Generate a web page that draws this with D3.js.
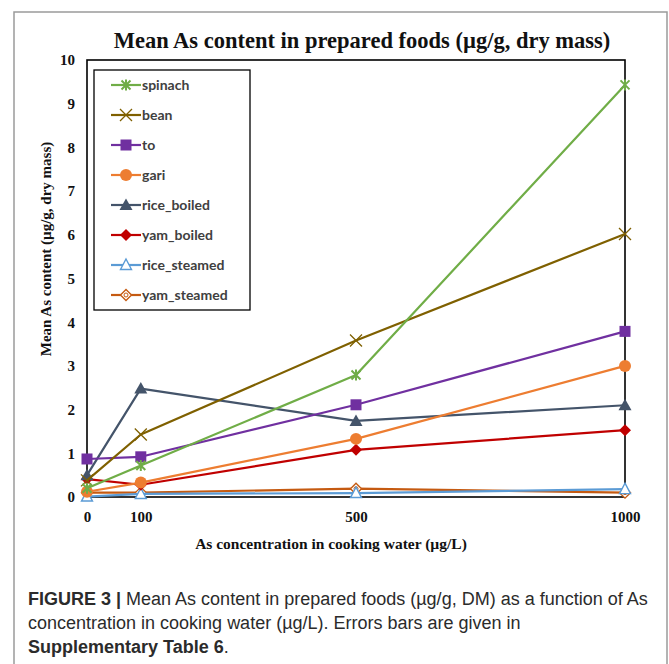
<!DOCTYPE html>
<html>
<head>
<meta charset="utf-8">
<script src="https://cdn.jsdelivr.net/npm/d3@7"></script>
<style>
  html, body { margin: 0; padding: 0; background: #fff; }
  svg { display: block; }
</style>
</head>
<body>
<svg id="fig" width="669" height="664"></svg>
<script>
// Arsenic concentration in cooking water (µg/L)
const concentrations = [0, 100, 500, 1000];

// Mean As content per food (µg/g, dry mass)
const spinach      = [0.20, 0.72, 2.79, 9.43];
const bean         = [0.38, 1.43, 3.58, 6.02];
const to           = [0.87, 0.92, 2.11, 3.79];
const gari         = [0.12, 0.33, 1.33, 3.00];
const riceBoiled   = [0.50, 2.48, 1.74, 2.10];
const yamBoiled    = [0.41, 0.28, 1.08, 1.53];
const riceSteamed  = [0.01, 0.07, 0.09, 0.18];
const yamSteamed   = [0.10, 0.10, 0.19, 0.10];

const seriesNames  = ["spinach", "bean", "to", "gari", "rice_boiled", "yam_boiled", "rice_steamed", "yam_steamed"];
const seriesValues = [spinach, bean, to, gari, riceBoiled, yamBoiled, riceSteamed, yamSteamed];
const seriesColors = ["#70ad47", "#7f6000", "#7030a0", "#ed7d31", "#44546a", "#c00000", "#5b9bd5", "#c55a11"];
const seriesMarkers = ["asterisk", "cross", "square", "circle", "triangle", "diamond", "triangleOpen", "diamondOpen"];

const xTicks = [0, 100, 500, 1000];
const yTicks = [0, 1, 2, 3, 4, 5, 6, 7, 8, 9, 10];

const svg = d3.select("#fig");

// figure frame
svg.append("rect")
  .attr("x", 14).attr("y", 12).attr("width", 653).attr("height", 670)
  .attr("fill", "none").attr("stroke", "#9a9a9a").attr("stroke-width", 1.5);

const plot = { left: 87, right: 625, top: 60, bottom: 497 };

const x = d3.scaleLinear().domain([0, 1000]).range([plot.left, plot.right]);
const y = d3.scaleLinear().domain([0, 10]).range([plot.bottom, plot.top]);

const serif = "'Liberation Serif', 'Times New Roman', serif";

// title
svg.append("text")
  .attr("x", 362).attr("y", 48)
  .attr("text-anchor", "middle")
  .attr("font-family", serif).attr("font-weight", "bold").attr("font-size", 22.5)
  .attr("fill", "#111")
  .text("Mean As content in prepared foods (µg/g, dry mass)");

// axes
const yAxis = d3.axisLeft(y).tickValues(yTicks).tickSize(0).tickPadding(12).tickFormat(d3.format("d"));
const gy = svg.append("g").attr("transform", `translate(${plot.left},0)`).call(yAxis);
gy.select(".domain").remove();
gy.selectAll("text")
  .attr("font-family", serif).attr("font-weight", "bold").attr("font-size", 15).attr("fill", "#111");

const xAxis = d3.axisBottom(x).tickValues(xTicks).tickSize(0).tickPadding(14).tickFormat(d3.format("d"));
const gx = svg.append("g").attr("transform", `translate(0,${plot.bottom})`).call(xAxis);
gx.select(".domain").remove();
gx.selectAll("text")
  .attr("font-family", serif).attr("font-weight", "bold").attr("font-size", 15).attr("fill", "#111");

// plot frame
svg.append("rect")
  .attr("x", plot.left).attr("y", plot.top)
  .attr("width", plot.right - plot.left).attr("height", plot.bottom - plot.top)
  .attr("fill", "none").attr("stroke", "#000").attr("stroke-width", 1.6);

// axis titles
svg.append("text")
  .attr("transform", "translate(51,249) rotate(-90)")
  .attr("text-anchor", "middle")
  .attr("font-family", serif).attr("font-weight", "bold").attr("font-size", 15).attr("fill", "#111")
  .text("Mean As content (µg/g, dry mass)");

svg.append("text")
  .attr("x", 331).attr("y", 549)
  .attr("text-anchor", "middle")
  .attr("font-family", serif).attr("font-weight", "bold").attr("font-size", 15.5).attr("fill", "#111")
  .text("As concentration in cooking water (µg/L)");

// marker drawing
function drawMarker(g, type, color) {
  switch (type) {
    case "asterisk":
      g.append("path").attr("d", "M-4.5,-4.5L4.5,4.5M-4.5,4.5L4.5,-4.5M0,-5.5L0,5.5")
        .attr("stroke", color).attr("stroke-width", 2).attr("fill", "none");
      break;
    case "cross":
      g.append("path").attr("d", "M-6,-6L6,6M-6,6L6,-6")
        .attr("stroke", color).attr("stroke-width", 1.3).attr("fill", "none");
      break;
    case "square":
      g.append("rect").attr("x", -5.5).attr("y", -5.5).attr("width", 11).attr("height", 11)
        .attr("fill", color);
      break;
    case "circle":
      g.append("circle").attr("r", 6).attr("fill", color);
      break;
    case "triangle":
      g.append("path").attr("d", "M0,-6.5L6.5,5L-6.5,5Z").attr("fill", color);
      break;
    case "diamond":
      g.append("path").attr("d", "M0,-6L6,0L0,6L-6,0Z").attr("fill", color);
      break;
    case "triangleOpen":
      g.append("path").attr("d", "M0,-6L5.5,4.5L-5.5,4.5Z")
        .attr("fill", "#fff").attr("stroke", color).attr("stroke-width", 1.4);
      break;
    case "diamondOpen":
      g.append("path").attr("d", "M0,-5.5L5.5,0L0,5.5L-5.5,0Z")
        .attr("fill", "#fff").attr("stroke", color).attr("stroke-width", 1.4);
      g.append("circle").attr("r", 2).attr("fill", "none").attr("stroke", color).attr("stroke-width", 1);
      break;
  }
}

const line = d3.line().x((d, i) => x(concentrations[i])).y(d => y(d));

// series lines and markers, drawn from the last series up so spinach sits on top
const seriesGroup = svg.append("g");
for (let s = seriesNames.length - 1; s >= 0; s--) {
  const g = seriesGroup.append("g");
  g.append("path")
    .datum(seriesValues[s])
    .attr("d", line)
    .attr("fill", "none")
    .attr("stroke", seriesColors[s])
    .attr("stroke-width", 2.2)
    .attr("stroke-linejoin", "round");
  seriesValues[s].forEach((v, i) => {
    const mg = g.append("g").attr("transform", `translate(${x(concentrations[i])},${y(v)})`);
    drawMarker(mg, seriesMarkers[s], seriesColors[s]);
  });
}

// legend
const legend = svg.append("g");
legend.append("rect")
  .attr("x", 94).attr("y", 70).attr("width", 156).attr("height", 240)
  .attr("fill", "#fff").attr("stroke", "#000").attr("stroke-width", 1.3);

seriesNames.forEach((name, s) => {
  const ly = 85 + s * 30;
  const g = legend.append("g");
  g.append("line")
    .attr("x1", 111).attr("x2", 141).attr("y1", ly).attr("y2", ly)
    .attr("stroke", seriesColors[s]).attr("stroke-width", 2.2);
  const mg = g.append("g").attr("transform", `translate(126,${ly})`);
  drawMarker(mg, seriesMarkers[s], seriesColors[s]);
  g.append("text")
    .attr("x", 142).attr("y", ly + 5)
    .attr("font-family", "Lato, 'Open Sans', sans-serif").attr("font-weight", "bold").attr("font-size", 14)
    .attr("fill", "#404040")
    .text(name);
});

// caption
const sans = "'Liberation Sans', Arial, sans-serif";
const cap = svg.append("text")
  .attr("font-family", sans).attr("font-size", 18).attr("fill", "#2b2b2b");
const l1 = cap.append("tspan").attr("x", 28).attr("y", 605);
l1.append("tspan").attr("font-weight", "bold").text("FIGURE 3 | ");
l1.append("tspan").text("Mean As content in prepared foods (µg/g, DM) as a function of As");
cap.append("tspan").attr("x", 28).attr("y", 629)
  .text("concentration in cooking water (µg/L). Errors bars are given in");
const l3 = cap.append("tspan").attr("x", 28).attr("y", 653);
l3.append("tspan").attr("font-weight", "bold").text("Supplementary Table 6");
l3.append("tspan").text(".");
</script>
</body>
</html>
